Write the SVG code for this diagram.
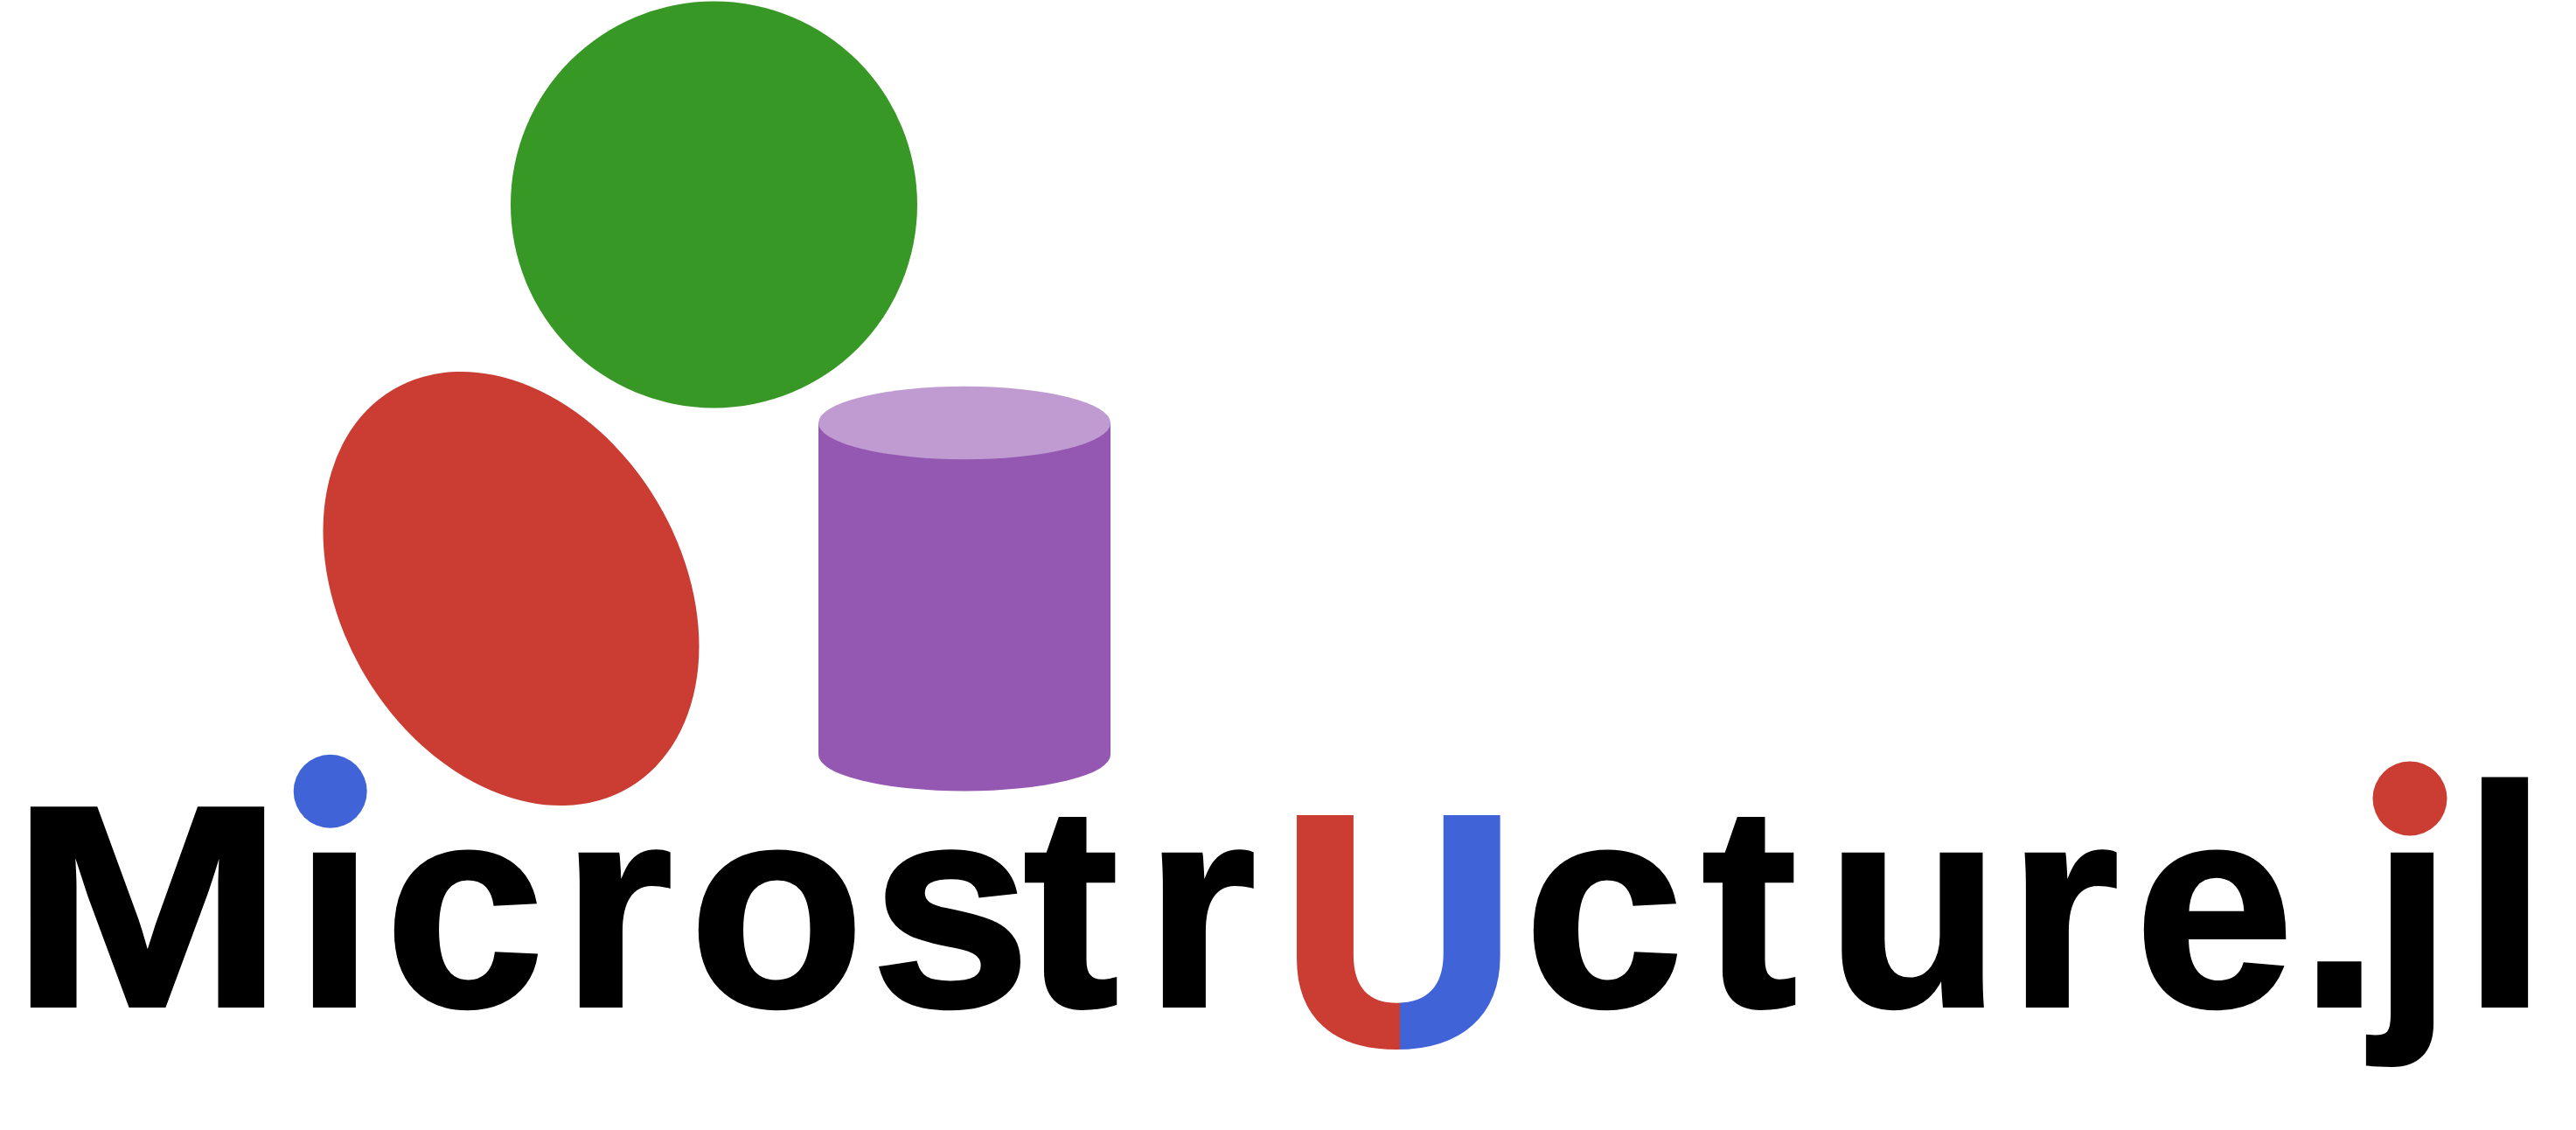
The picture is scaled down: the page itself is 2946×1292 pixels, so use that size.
<svg xmlns="http://www.w3.org/2000/svg" width="2946" height="1292" viewBox="0 0 2946 1292">
<style>
.word{font-family:"Liberation Sans",Arial,sans-serif;font-weight:700;font-size:328px;fill:#000;stroke:#000;stroke-width:4px}
.green{fill:#389826}.red{fill:#cb3c33}.purple{fill:#9558b2}.blue{fill:#4063d8}.cap{fill:#bf9bd1}
</style>
<defs>
<linearGradient id="magnet" gradientUnits="userSpaceOnUse" x1="1486" y1="0" x2="1716" y2="0">
<stop offset="0.5" stop-color="#cb3c33"/><stop offset="0.5" stop-color="#4063d8"/>
</linearGradient>
<clipPath id="nodots"><path clip-rule="evenodd" d="M0 0H2946V1292H0Z M320 860H440V971H320Z M2700 860H2825V971H2700Z"/></clipPath>
</defs>
<rect width="2946" height="1292" fill="#fff"/>
<g id="green-circle"><circle class="green" cx="816.500" cy="234" r="232.500"/></g>
<g id="red-ellipse"><ellipse class="red" cx="584.500" cy="673" rx="264.500" ry="194.400" transform="rotate(59.2 584.500 673)"/></g>
<g id="purple-cylinder">
<path class="purple" d="M936 483.500V863A167 41.500 0 0 0 1270 863V483.500Z"/>
<ellipse class="cap" cx="1103" cy="483.500" rx="167" ry="41.700"/>
</g>
<g id="wordmark">
<text class="word" clip-path="url(#nodots)" y="1150"><tspan x="12" textLength="313" lengthAdjust="spacingAndGlyphs">M</tspan><tspan x="337 440 642 788 996 1170 1309">icrostr</tspan><tspan x="1467" y="1190.500" style="font-size:367px;fill:url(#magnet);stroke:url(#magnet);stroke-width:12px">U</tspan><tspan x="1743 1946 2088 2296 2441 2630 2713" y="1150">cture.j</tspan><tspan x="2815" y="1150" style="font-size:358px">l</tspan></text>
</g>
<g id="i-dot"><circle class="blue" cx="377.700" cy="904.700" r="42"/></g>
<g id="j-dot"><circle class="red" cx="2756" cy="913" r="42.500"/></g>
</svg>
